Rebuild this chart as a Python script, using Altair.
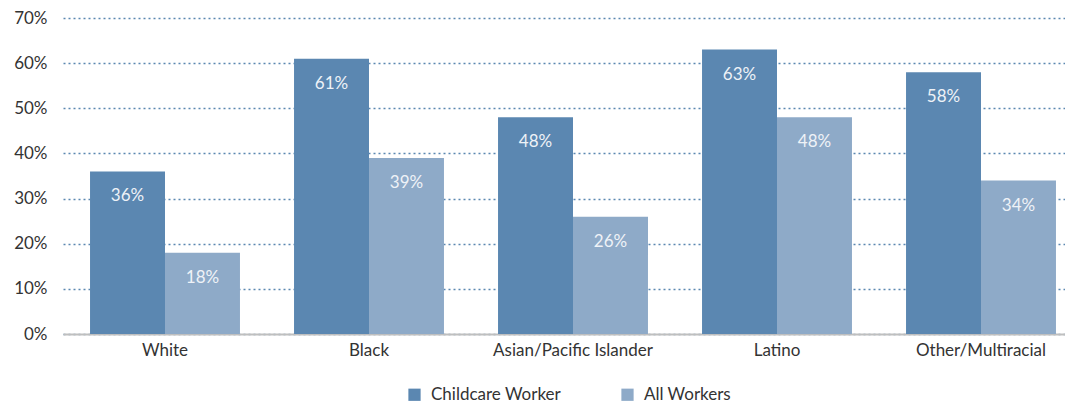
import altair as alt
import pandas as pd

categories = ["White", "Black", "Asian/Pacific Islander", "Latino", "Other/Multiracial"]
childcare = [36, 61, 48, 63, 58]
all_workers = [18, 39, 26, 48, 34]
series = ["Childcare Worker", "All Workers"]
colors = ["#5b87b1", "#8eaac8"]

rows = []
for c, a, b in zip(categories, childcare, all_workers):
    rows.append({"cat": c, "series": series[0], "value": a, "label": f"{a}%"})
    rows.append({"cat": c, "series": series[1], "value": b, "label": f"{b}%"})
df = pd.DataFrame(rows)

FONT = "Lato"

x = alt.X("cat:N", sort=categories, title=None,
          scale=alt.Scale(range=[0, 1020], paddingInner=0.265, paddingOuter=0.1325),
          axis=alt.Axis(labelAngle=0, labelFontSize=17, labelColor="#333333", labelFont=FONT,
                        ticks=False, domainColor="#bfbfbf", domainWidth=2, labelPadding=8,
                        grid=False))
y = alt.Y("value:Q", title=None,
          scale=alt.Scale(domain=[0, 70], nice=False),
          axis=alt.Axis(values=[0, 10, 20, 30, 40, 50, 60, 70], labelExpr="datum.value + '%'",
                        labelFontSize=17, labelColor="#333333", labelFont=FONT, ticks=False,
                        domain=False, labelPadding=16, grid=True, gridColor="#5b87b1",
                        gridDash=[2, 3], gridWidth=1.6))
xo = alt.XOffset("series:N", sort=series)
color = alt.Color("series:N", sort=series,
                  scale=alt.Scale(domain=series, range=colors),
                  legend=alt.Legend(title=None, orient="none", legendX=343, legendY=368,
                                    direction="horizontal", symbolType="square", symbolSize=150,
                                    symbolStrokeWidth=0, labelFontSize=17, labelFont=FONT,
                                    labelColor="#333333", columnPadding=58, labelOffset=8))

bars = alt.Chart(df).mark_bar().encode(x=x, xOffset=xo, y=y, color=color)
text = alt.Chart(df).mark_text(dy=25, fontSize=17, font=FONT, color="#eef2f7").encode(
    x=alt.X("cat:N", sort=categories), xOffset=xo, y="value:Q", text="label:N")

chart = (bars + text).properties(
    width=1002, height=316,
    autosize=alt.AutoSizeParams(type="none"),
    padding={"left": 55, "top": 10, "right": 0, "bottom": 71},
).configure_view(stroke=None)

chart.save("out.html", embed_options={"renderer": "svg", "actions": False})
